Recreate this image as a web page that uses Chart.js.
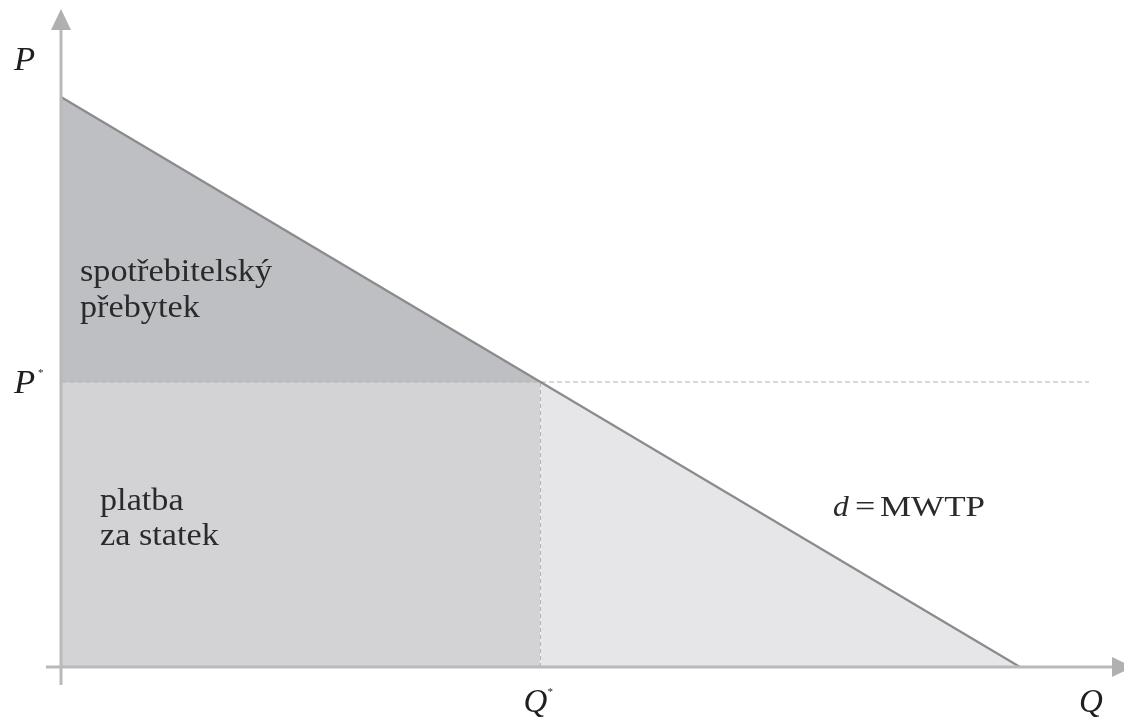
<!DOCTYPE html>
<html>
<head>
<meta charset="utf-8">
<script src="https://cdn.jsdelivr.net/npm/chart.js@4/dist/chart.umd.min.js"></script>
<style>
html,body{margin:0;padding:0;background:#fff;}
canvas{display:block;}
</style>
</head>
<body>
<canvas id="c" width="1124" height="721"></canvas>
<script>
// Demand: P = 10 - Q ; equilibrium Q* = 5, P* = 5
const demandQ = [0, 10];
const demandP = [10, 0];
const eqQ = 5;
const eqP = 5;
const priceLineEnd = 10.72;
const axisLabels = { p: 'P', pStar: 'P', q: 'Q', qStar: 'Q' };
const areaLabels = {
  surplus: ['spotřebitelský', 'přebytek'],
  payment: ['platba', 'za statek'],
  demand: ['d', '=', 'MWTP']
};

const xMin = -0.2, xMax = 11.05, yMin = -0.35, yMax = 11.55;

const pts = (xs, ys) => xs.map((x, i) => ({ x: x, y: ys[i] }));

function wideText(ctx, txt, x, y, sx) {
  ctx.save();
  ctx.translate(x, y);
  ctx.scale(sx, 1);
  ctx.fillText(txt, 0, 0);
  const w = ctx.measureText(txt).width * sx;
  ctx.restore();
  return w;
}

const overlay = {
  id: 'overlay',
  afterDatasetsDraw(chart) {
    const ctx = chart.ctx;
    const xs = chart.scales.x, ys = chart.scales.y;
    const X = v => xs.getPixelForValue(v), Y = v => ys.getPixelForValue(v);
    const ox = X(0), oy = Y(0);
    ctx.save();
    // axes
    ctx.strokeStyle = '#b9b9bb';
    ctx.fillStyle = '#b0b0b2';
    ctx.lineWidth = 3;
    ctx.beginPath();
    ctx.moveTo(ox, oy + 18); ctx.lineTo(ox, 28);
    ctx.moveTo(ox - 15, oy); ctx.lineTo(1113, oy);
    ctx.stroke();
    // arrowheads
    ctx.beginPath();
    ctx.moveTo(ox, 9); ctx.lineTo(ox - 10, 30); ctx.lineTo(ox + 10, 30); ctx.closePath();
    ctx.fill();
    ctx.beginPath();
    ctx.moveTo(1133, oy); ctx.lineTo(1112, oy - 10); ctx.lineTo(1112, oy + 10); ctx.closePath();
    ctx.fill();

    // axis labels
    ctx.fillStyle = '#1f1f1f';
    ctx.textBaseline = 'alphabetic';
    ctx.font = 'italic 33px "Liberation Serif"';
    wideText(ctx, axisLabels.p, 14, 70, 1.05);
    wideText(ctx, axisLabels.pStar, 14, 393, 1.05);
    wideText(ctx, axisLabels.qStar, X(eqQ) - 17, 712, 1.0);
    wideText(ctx, axisLabels.q, 1079, 712, 1.0);
    ctx.font = '11px "Liberation Serif"';
    ctx.fillText('*', 38, 376);
    ctx.fillText('*', X(eqQ) + 7, 695);

    // area labels
    ctx.fillStyle = '#2a2a2a';
    ctx.font = '32px "Liberation Serif"';
    wideText(ctx, areaLabels.surplus[0], ox + 19, 281, 1.07);
    wideText(ctx, areaLabels.surplus[1], ox + 19, 317, 1.07);
    wideText(ctx, areaLabels.payment[0], ox + 39, 510, 1.07);
    wideText(ctx, areaLabels.payment[1], ox + 39, 545, 1.07);
    ctx.font = 'italic 30px "Liberation Serif"';
    wideText(ctx, areaLabels.demand[0], 833, 516, 1.05);
    ctx.font = '30px "Liberation Serif"';
    wideText(ctx, areaLabels.demand[1], 855, 516, 1.2);
    ctx.font = '30px "Liberation Serif"';
    const mw = ctx.measureText(areaLabels.demand[2]).width;
    wideText(ctx, areaLabels.demand[2], 880, 516, 105 / mw);
    ctx.restore();
  }
};

new Chart(document.getElementById('c'), {
  type: 'line',
  data: {
    datasets: [
      { // consumer surplus (between demand and P*)
        data: pts([demandQ[0], eqQ], [demandP[0], eqP]),
        borderWidth: 0, pointRadius: 0, fill: '+1',
        backgroundColor: '#bebfc3', order: 5
      },
      { // payment rectangle
        data: pts([0, eqQ], [eqP, eqP]),
        borderWidth: 0, pointRadius: 0, fill: 'origin',
        backgroundColor: '#d3d3d6', order: 6
      },
      { // remaining triangle
        data: pts([eqQ, demandQ[1]], [eqP, demandP[1]]),
        borderWidth: 0, pointRadius: 0, fill: 'origin',
        backgroundColor: '#e6e6e8', order: 7
      },
      { // P* dashed line
        data: pts([0, priceLineEnd], [eqP, eqP]),
        borderColor: '#b3b3b5', borderWidth: 1, borderDash: [5, 3],
        pointRadius: 0, fill: false, order: 3
      },
      { // Q* dashed line
        data: pts([eqQ, eqQ], [0, eqP]),
        borderColor: '#b3b3b5', borderWidth: 1, borderDash: [4, 3],
        pointRadius: 0, fill: false, order: 2
      },
      { // demand curve
        data: pts(demandQ, demandP),
        borderColor: '#8b8b8d', borderWidth: 2.2,
        pointRadius: 0, fill: false, order: 1
      }
    ]
  },
  options: {
    responsive: false,
    animation: false,
    layout: { padding: { left: 41.82, right: 3.3, top: 8.65, bottom: 34.05 } },
    scales: {
      x: { type: 'linear', min: xMin, max: xMax, display: false },
      y: { type: 'linear', min: yMin, max: yMax, display: false }
    },
    plugins: { legend: { display: false }, tooltip: { enabled: false } },
    elements: { line: { tension: 0 } }
  },
  plugins: [overlay]
});
</script>
</body>
</html>
